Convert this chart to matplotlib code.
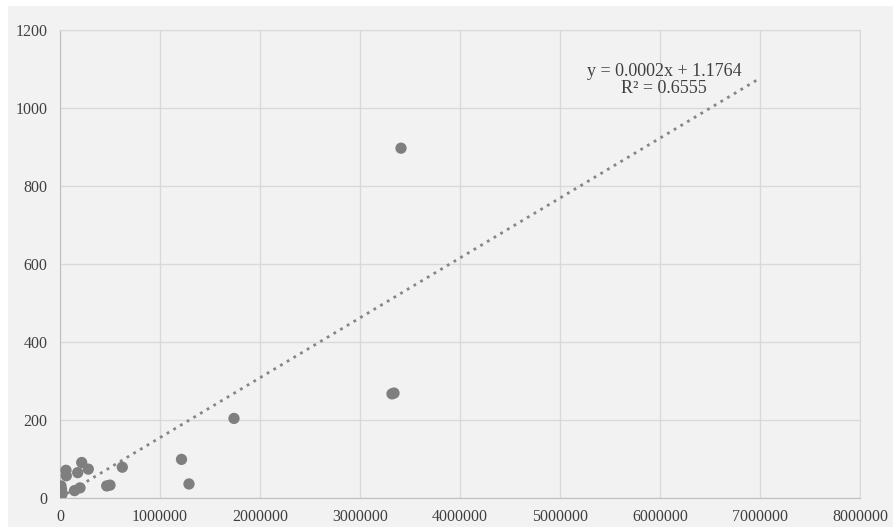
import numpy as np
import matplotlib.pyplot as plt
from matplotlib.patches import Rectangle

# data
x_vals = [3410000, 3320000, 3340000, 1740000, 1215000, 1290000, 623000, 500000, 467000,
          283000, 217000, 177000, 60000, 63000, 200000, 145000, 10000, 12000, 15000, 20000]
y_vals = [897, 267, 269, 204, 99, 36, 79, 33, 31,
          74, 91, 65, 71, 57, 26, 19, 31, 13, 22, 10]

trend_slope = 0.0001536
trend_intercept = 1.1764
trend_x = [0, 7000000]
eq_text = "y = 0.0002x + 1.1764\nR² = 0.6555"

x_ticks = [0, 1000000, 2000000, 3000000, 4000000, 5000000, 6000000, 7000000, 8000000]
y_ticks = [0, 200, 400, 600, 800, 1000, 1200]

plt.rcParams['font.family'] = ['Liberation Serif', 'DejaVu Serif']

fig = plt.figure(figsize=(8.93, 5.27), dpi=100, facecolor='white')
bg = Rectangle((8 / 893, 0), 1, 1 - 6 / 527, transform=fig.transFigure,
               facecolor='#f2f2f2', edgecolor='none', zorder=-10)
fig.add_artist(bg)

ax = fig.add_axes([60 / 893, 1 - 498 / 527, 800 / 893, 468 / 527])
ax.set_facecolor('#f2f2f2')

ax.scatter(x_vals, y_vals, s=66, color='#7f7f7f', edgecolors='none', zorder=3)

tx = np.array(trend_x)
ax.plot(tx, trend_slope * tx + trend_intercept, linestyle=(0, (1, 1.8)),
        color='#858585', linewidth=2, zorder=2)

ax.text(6040000, 1072, eq_text, ha='center', va='center', fontsize=13,
        color='#404040', linespacing=1.05)

ax.set_xlim(0, 8000000)
ax.set_ylim(0, 1200)
ax.set_xticks(x_ticks)
ax.set_yticks(y_ticks)
ax.set_xticklabels([str(v) for v in x_ticks])
ax.set_yticklabels([str(v) for v in y_ticks])
ax.tick_params(length=0, labelsize=11.5, colors='#404040')
ax.tick_params(axis='y', pad=9)
ax.tick_params(axis='x', pad=8)

ax.grid(True, color='#d9d9d9', linewidth=1)
ax.set_axisbelow(True)
for side in ['top', 'right']:
    ax.spines[side].set_color('#d9d9d9')
for side in ['left', 'bottom']:
    ax.spines[side].set_color('#bfbfbf')

fig.savefig('out.png', dpi=100, facecolor='white')
